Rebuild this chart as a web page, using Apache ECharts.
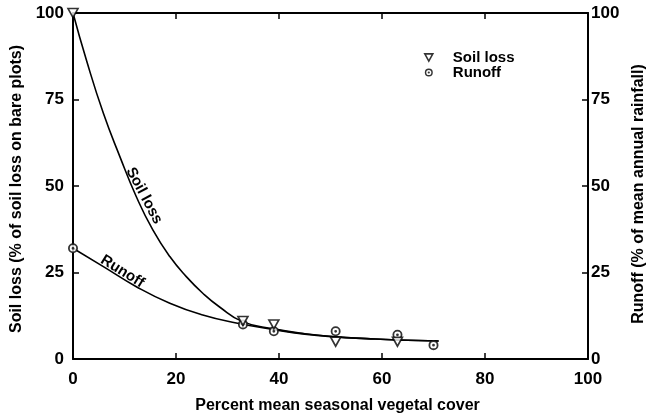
<!DOCTYPE html>
<html>
<head>
<meta charset="utf-8">
<script src="https://cdn.jsdelivr.net/npm/echarts@6/dist/echarts.min.js"></script>
<style>
  html, body { margin: 0; padding: 0; background: #fff; }
  #chart { width: 655px; height: 420px; }
</style>
</head>
<body>
<div id="chart"></div>
<script>
// Observed plot data: [vegetal cover %, value %]
const soilLossPoints = [[0, 100], [33, 11], [39, 10], [51, 5], [63, 5]];
const runoffPoints = [[0, 32], [33, 10], [39, 8], [51, 8], [63, 7], [70, 4]];

// Fitted response curves
const soilLossCurve = [
  [0, 100], [2.6, 86.4], [5.9, 71], [9.1, 58.5], [12.3, 46.9], [15.5, 37.3],
  [18.8, 29.6], [22, 23.8], [25.2, 19], [28.4, 15.1], [32.9, 10.8], [39, 8.7],
  [45, 7.3], [51, 6.4], [57, 5.9], [63, 5.5], [71, 5.2]
];
const runoffCurve = [
  [0, 32], [5.9, 26.7], [12.3, 20.9], [18.8, 16.1], [25.2, 12.7], [31.7, 10.4],
  [39, 8.5], [45, 7.2], [51, 6.4], [57, 5.9], [63, 5.5], [71, 5.2]
];

// Axis ticks
const xTicks = [0, 20, 40, 60, 80, 100];
const yTicks = [0, 25, 50, 75, 100];

const FONT = '"Liberation Sans", Arial, sans-serif';
const TRI_DOWN = 'path://M0,0L10,0L5,9Z';
const RING_DOT = 'path://M0,10A10,10 0 1,1 20,10A10,10 0 1,1 0,10Z' +
  'M3.6,10A6.4,6.4 0 1,0 16.4,10A6.4,6.4 0 1,0 3.6,10Z' +
  'M7.2,10A2.8,2.8 0 1,1 12.8,10A2.8,2.8 0 1,1 7.2,10Z';

const chart = echarts.init(document.getElementById('chart'), null, { renderer: 'canvas' });

const axisLine = { show: true, onZero: false, lineStyle: { color: '#000', width: 2 } };
const axisTick = { show: true, inside: true, length: 6, lineStyle: { color: '#000', width: 1.5 } };
const tickLabel = { color: '#000', fontFamily: FONT, fontWeight: 'bold', fontSize: 17 };
const nameStyle = { color: '#000', fontFamily: FONT, fontWeight: 'bold', fontSize: 16 };

const option = {
  animation: false,
  backgroundColor: '#fff',
  grid: { left: 73, right: 64, top: 13, bottom: 61, containLabel: false },
  legend: {
    orient: 'vertical',
    left: 419,
    top: 45,
    itemWidth: 8,
    itemHeight: 8,
    itemGap: 0,
    selectedMode: false,
    textStyle: {
      color: '#000', fontFamily: FONT, fontWeight: 'bold', fontSize: 15,
      lineHeight: 14, padding: [0, 0, 0, 15]
    },
    data: [
      { name: 'Soil loss', icon: TRI_DOWN,
        itemStyle: { color: '#fff', borderColor: '#000', borderWidth: 1.6 } },
      { name: 'Runoff', icon: RING_DOT, itemStyle: { color: '#000', borderWidth: 0 } }
    ]
  },
  xAxis: [
    {
      type: 'value', min: 0, max: 100, interval: 20, position: 'bottom',
      name: 'Percent mean seasonal vegetal cover', nameLocation: 'middle', nameGap: 39,
      nameTextStyle: Object.assign({ padding: [0, 0, 0, 14] }, nameStyle),
      axisLine, axisTick,
      axisLabel: Object.assign({ margin: 12, formatter: v => xTicks.includes(v) ? String(v) : '' }, tickLabel),
      splitLine: { show: false }
    },
    {
      type: 'value', min: 0, max: 100, interval: 20, position: 'top',
      axisLine, axisTick, axisLabel: { show: false }, splitLine: { show: false }
    }
  ],
  yAxis: [
    {
      type: 'value', min: 0, max: 100, interval: 25, position: 'left',
      name: 'Soil loss (% of soil loss on bare plots)', nameLocation: 'middle', nameGap: 48,
      nameTextStyle: Object.assign({ padding: [0, 6, 0, 0] }, nameStyle),
      axisLine, axisTick,
      axisLabel: Object.assign({ margin: 9, formatter: v => yTicks.includes(v) ? String(v) : '' }, tickLabel),
      splitLine: { show: false }
    },
    {
      type: 'value', min: 0, max: 100, interval: 25, position: 'right',
      name: 'Runoff (% of mean annual rainfall)', nameLocation: 'middle', nameGap: 43,
      nameTextStyle: Object.assign({ padding: [0, 16, 0, 0] }, nameStyle),
      axisLine, axisTick,
      axisLabel: Object.assign({ margin: 3, formatter: v => yTicks.includes(v) ? String(v) : '' }, tickLabel),
      splitLine: { show: false }
    }
  ],
  series: [
    {
      name: 'soilLossFit', type: 'line', data: soilLossCurve, smooth: true,
      showSymbol: false, symbol: 'none', z: 2,
      lineStyle: { color: '#000', width: 1.6 }
    },
    {
      name: 'runoffFit', type: 'line', data: runoffCurve, smooth: true,
      showSymbol: false, symbol: 'none', z: 2,
      lineStyle: { color: '#000', width: 1.6 }
    },
    {
      name: 'runoffBack', type: 'scatter', data: runoffPoints, symbol: 'circle',
      symbolSize: 9, z: 3, itemStyle: { color: '#fff' }
    },
    {
      name: 'Runoff', type: 'scatter', data: runoffPoints, symbol: RING_DOT,
      symbolSize: 10, z: 4, itemStyle: { color: '#000' }
    },
    {
      name: 'Soil loss', type: 'scatter', data: soilLossPoints, symbol: TRI_DOWN,
      symbolSize: [10, 9], z: 5,
      itemStyle: { color: '#fff', borderColor: '#000', borderWidth: 1.6 }
    }
  ]
};

chart.setOption(option);

// Curve labels, placed in data space alongside each fitted line
const curveLabels = [
  { text: 'Soil loss', at: [13.8, 47.2], angle: -62 },
  { text: 'Runoff', at: [9.6, 25.3], angle: -32 }
];
chart.setOption({
  graphic: curveLabels.map(l => {
    const p = chart.convertToPixel({ xAxisIndex: 0, yAxisIndex: 0 }, l.at);
    return {
      type: 'text', x: p[0], y: p[1], rotation: l.angle * Math.PI / 180, z: 10,
      style: {
        text: l.text, fill: '#000', font: 'bold 15px ' + FONT,
        align: 'center', verticalAlign: 'middle'
      }
    };
  })
});
</script>
</body>
</html>
